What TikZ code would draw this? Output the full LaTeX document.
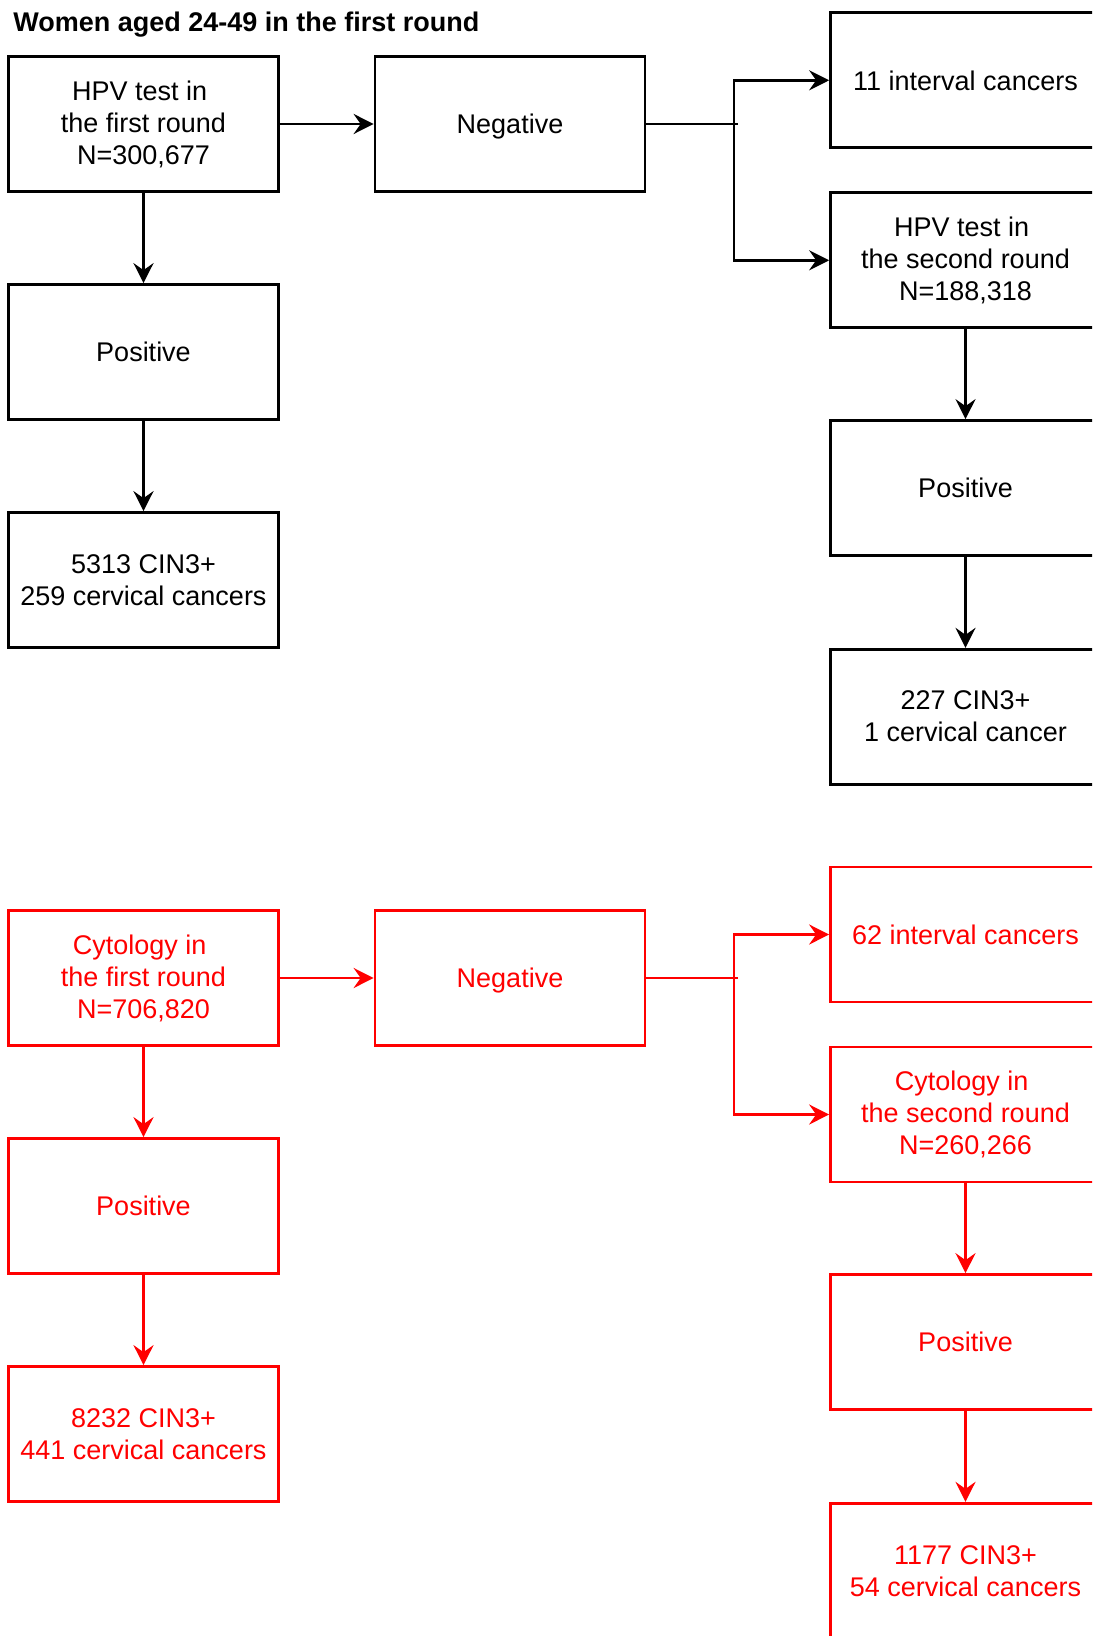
\documentclass[tikz,border=0pt]{standalone}
\usepackage{fontspec}
\setmainfont{Liberation Sans}
\usetikzlibrary{arrows.meta}
\begin{document}
\begin{tikzpicture}[x=0.5pt,y=-0.5pt,
  box/.style={draw, line width=1.35pt, minimum width=135pt, minimum height=67.5pt,
    align=center, inner sep=0pt, font=\fontsize{13.5pt}{16pt}\selectfont},
  one/.style={text height=9.72pt, text depth=0pt},
  rbox/.style={box, draw=red, text=red},
  arr/.style={line width=1.35pt, -{Stealth[length=10pt,width=10pt,inset=3.5pt]}},
  rarr/.style={arr, draw=red},
  ln/.style={line width=1.35pt},
  rln/.style={ln, draw=red},
  ttl/.style={anchor=base west, inner sep=0pt, font=\fontsize{13.5pt}{16pt}\selectfont\bfseries}
]
\useasboundingbox (0,0) rectangle (1092,1636);
\clip (0,0) rectangle (1092,1636);

\node[ttl] (title) at (13,32) {Women aged 24-49 in the first round};

% black part
\node[box] (hpv1) at (143.5,124) {HPV test in\kern0.28em\\the first round\\N=300,677};
\node[box, one] (pos1) at (143.5,352) {Positive};
\node[box] (cin1) at (143.5,580) {5313 CIN3+\\259 cervical cancers};
\node[box, one] (neg) at (510,124) {Negative};
\node[box, one] (int) at (965.5,80.3) {11 interval cancers};
\node[box] (hpv2) at (965.5,260.3) {HPV test in\kern0.28em\\the second round\\N=188,318};
\node[box, one] (pos2) at (965.5,488) {Positive};
\node[box] (cin2) at (965.5,716.7) {227 CIN3+\\1 cervical cancer};

\coordinate (j) at (734,124);
\coordinate (je) at (738,124);
\draw[arr] (hpv1) -- (neg);
\draw[arr] (hpv1) -- (pos1);
\draw[arr] (pos1) -- (cin1);
\draw[ln] (neg.east) -- (je);
\draw[arr] (j) |- (int.west);
\draw[arr] (j) |- (hpv2.west);
\draw[arr] (hpv2) -- (pos2);
\draw[arr] (pos2) -- (cin2);

% red part
\node[rbox] (cyt1) at (143.5,978) {Cytology in\kern0.28em\\the first round\\N=706,820};
\node[rbox, one] (rpos1) at (143.5,1206) {Positive};
\node[rbox] (rcin1) at (143.5,1434) {8232 CIN3+\\441 cervical cancers};
\node[rbox, one] (rneg) at (510,978) {Negative};
\node[rbox, one] (rint) at (965.5,934.5) {62 interval cancers};
\node[rbox] (cyt2) at (965.5,1114.5) {Cytology in\kern0.28em\\the second round\\N=260,266};
\node[rbox, one] (rpos2) at (965.5,1342) {Positive};
\node[rbox] (rcin2) at (965.5,1570.7) {1177 CIN3+\\54 cervical cancers};

\coordinate (rj) at (734,978);
\coordinate (rje) at (738,978);
\draw[rarr] (cyt1) -- (rneg);
\draw[rarr] (cyt1) -- (rpos1);
\draw[rarr] (rpos1) -- (rcin1);
\draw[rln] (rneg.east) -- (rje);
\draw[rarr] (rj) |- (rint.west);
\draw[rarr] (rj) |- (cyt2.west);
\draw[rarr] (cyt2) -- (rpos2);
\draw[rarr] (rpos2) -- (rcin2);
\end{tikzpicture}
\end{document}
